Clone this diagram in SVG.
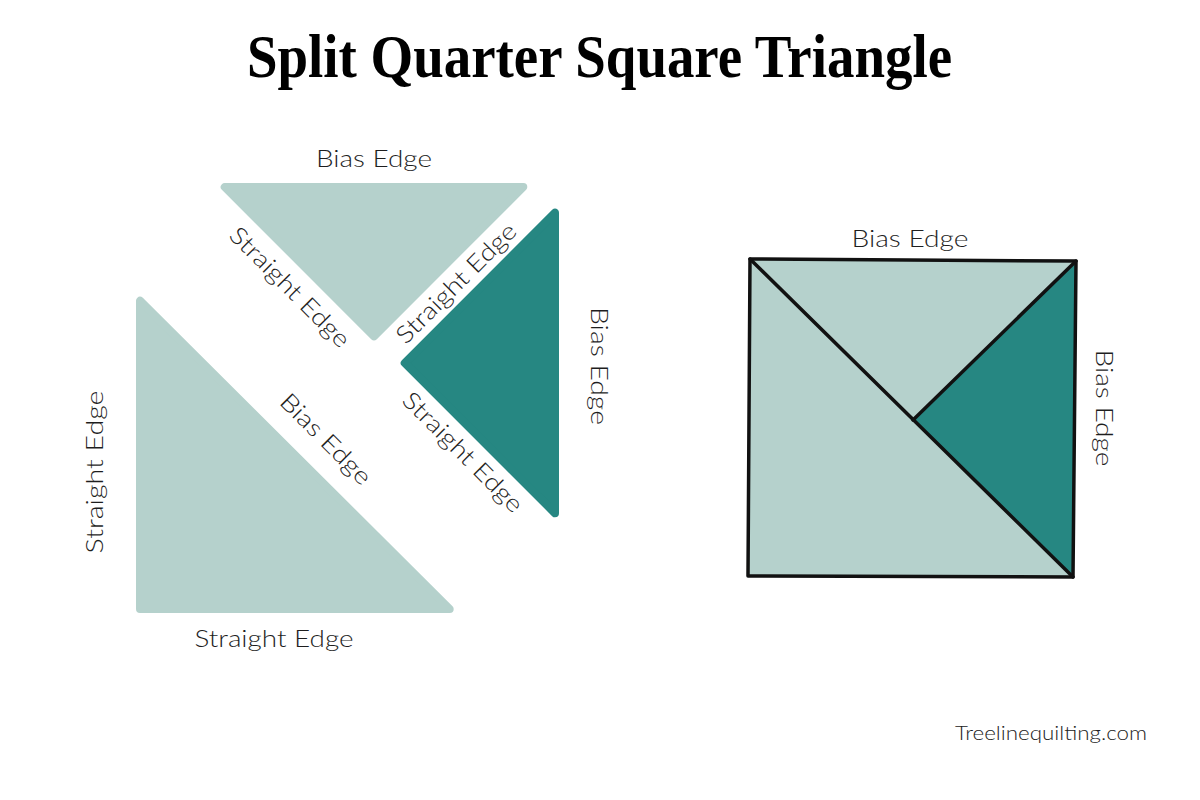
<svg xmlns="http://www.w3.org/2000/svg" width="1200" height="800" viewBox="0 0 1200 800">
  <style>
    .light { fill: #b5d1cc; stroke: #b5d1cc; stroke-width: 8; stroke-linejoin: round; }
    .dark { fill: #268782; stroke: #268782; stroke-width: 8; stroke-linejoin: round; }
    .sqlight { fill: #b5d1cc; }
    .sqdark { fill: #268782; }
    .edge { fill: none; stroke: #111111; stroke-width: 3.5; stroke-linejoin: round; stroke-linecap: round; }
    .lbl { font-family: Lato, "Open Sans", "Liberation Sans", sans-serif; font-weight: 300; font-size: 24px; fill: #1e1e1e; text-anchor: middle; }
    .title { font-family: "Liberation Serif", "DejaVu Serif", serif; font-weight: bold; font-size: 62px; fill: #000000; }
    .foot { font-family: Lato, "Open Sans", "Liberation Sans", sans-serif; font-weight: 300; font-size: 20px; fill: #222222; }
  </style>
  <rect width="1200" height="800" fill="#ffffff"/>

  <g id="title">
    <text class="title" x="247" y="77" textLength="705" lengthAdjust="spacingAndGlyphs">Split Quarter Square Triangle</text>
  </g>

  <g id="top-triangle">
    <polygon class="light" points="224.7,187 523.3,187 374,336.3"/>
    <text class="lbl" x="374" y="167" textLength="116" lengthAdjust="spacingAndGlyphs">Bias Edge</text>
    <text class="lbl" transform="translate(284,293) rotate(45)" x="0" y="0" textLength="159" lengthAdjust="spacingAndGlyphs">Straight Edge</text>
  </g>

  <g id="dark-triangle">
    <polygon class="dark" points="555,212.7 555,513.3 404.7,363"/>
    <text class="lbl" transform="translate(462,289) rotate(-45)" x="0" y="0" textLength="159" lengthAdjust="spacingAndGlyphs">Straight Edge</text>
    <text class="lbl" transform="translate(457,458) rotate(45)" x="0" y="0" textLength="159" lengthAdjust="spacingAndGlyphs">Straight Edge</text>
    <text class="lbl" transform="translate(591,366) rotate(90)" x="0" y="0" textLength="118" lengthAdjust="spacingAndGlyphs">Bias Edge</text>
  </g>

  <g id="large-triangle">
    <polygon class="light" points="140,300.7 140,609 449.7,609"/>
    <text class="lbl" transform="translate(320,445) rotate(45)" x="0" y="0" textLength="118" lengthAdjust="spacingAndGlyphs">Bias Edge</text>
    <text class="lbl" transform="translate(103,472) rotate(-90)" x="0" y="0" textLength="163" lengthAdjust="spacingAndGlyphs">Straight Edge</text>
    <text class="lbl" x="274" y="647" textLength="159" lengthAdjust="spacingAndGlyphs">Straight Edge</text>
  </g>

  <g id="assembled-square">
    <polygon class="sqlight" points="750,259 1076,261 1073,577 748,576"/>
    <polygon class="sqdark" points="1076,261 1073,577 913,420"/>
    <text class="lbl" x="910" y="247" textLength="117" lengthAdjust="spacingAndGlyphs">Bias Edge</text>
    <text class="lbl" transform="translate(1096,408) rotate(90)" x="0" y="0" textLength="117" lengthAdjust="spacingAndGlyphs">Bias Edge</text>
  </g>

  <g id="connectors">
    <polygon class="edge" points="750,259 1076,261 1073,577 748,576"/>
    <line class="edge" x1="750" y1="259" x2="1073" y2="577"/>
    <line class="edge" x1="1076" y1="261" x2="913" y2="420"/>
  </g>

  <g id="footer">
    <text class="foot" x="955" y="740" textLength="192" lengthAdjust="spacingAndGlyphs">Treelinequilting.com</text>
  </g>
</svg>
